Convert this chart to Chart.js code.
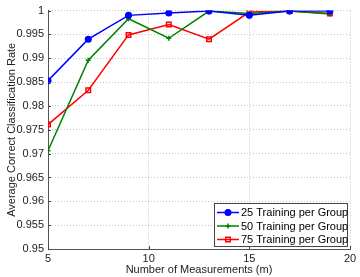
<!DOCTYPE html>
<html>
<head>
<meta charset="utf-8">
<script src="https://cdn.jsdelivr.net/npm/chart.js@4/dist/chart.umd.min.js"></script>
<style>
  html, body { margin: 0; padding: 0; background: #fff; }
  #wrap { position: relative; width: 360px; height: 277px; }
</style>
</head>
<body>
<div id="wrap"><canvas id="chart" width="360" height="277"></canvas></div>
<script>
const measurements = [5, 7, 9, 11, 13, 15, 17, 19];
const train25 = [0.9853, 0.9940, 0.9990, 0.9995, 0.9999, 0.9990, 0.9999, 0.9999];
const train50 = [0.9706, 0.9896, 0.9983, 0.9942, 0.9999, 0.9994, 0.9999, 0.9993];
const train75 = [0.9761, 0.9833, 0.9949, 0.9971, 0.9940, 0.9997, 0.9999, 0.9994];
const seriesNames = ['25 Training per Group', '50 Training per Group', '75 Training per Group'];

const FONT = 'Liberation Sans, Arial, sans-serif';

const toPoints = (arr) => arr.map((v, i) => ({ x: measurements[i], y: v }));

// small inward ticks on left and bottom axis (matlab style)
const innerTicks = {
  id: 'innerTicks',
  afterDraw(chart) {
    const ctx = chart.ctx;
    const a = chart.chartArea;
    ctx.save();
    ctx.strokeStyle = '#444';
    ctx.lineWidth = 1;
    ctx.beginPath();
    chart.scales.x.ticks.forEach((t) => {
      const px = Math.round(chart.scales.x.getPixelForValue(t.value)) + 0.5;
      ctx.moveTo(px, a.bottom);
      ctx.lineTo(px, a.bottom - 3);
    });
    chart.scales.y.ticks.forEach((t) => {
      const py = Math.round(chart.scales.y.getPixelForValue(t.value)) + 0.5;
      ctx.moveTo(a.left, py);
      ctx.lineTo(a.left + 3, py);
    });
    ctx.stroke();
    ctx.restore();
  }
};

// legend drawn inside the plot, bottom right like the original
const innerLegend = {
  id: 'innerLegend',
  afterDraw(chart) {
    const ctx = chart.ctx;
    const area = chart.chartArea;
    const w = 133, h = 43;
    const x0 = area.right - 3 - w, y0 = area.bottom - 3 - h;
    ctx.save();
    ctx.fillStyle = '#fff';
    ctx.fillRect(x0, y0, w, h);
    ctx.strokeStyle = '#444';
    ctx.lineWidth = 1;
    ctx.strokeRect(x0 + 0.5, y0 + 0.5, w, h);
    ctx.font = '11px ' + FONT;
    ctx.textBaseline = 'middle';
    chart.data.datasets.forEach((ds, i) => {
      const y = y0 + 9.5 + i * 13.5;
      ctx.strokeStyle = ds.borderColor;
      ctx.lineWidth = 1.5;
      ctx.beginPath();
      ctx.moveTo(x0 + 3, y);
      ctx.lineTo(x0 + 25, y);
      ctx.stroke();
      ctx.fillStyle = ds.pointBackgroundColor;
      Chart.helpers.drawPoint(ctx, {
        pointStyle: ds.pointStyle,
        radius: ds.pointRadius,
        borderWidth: 1.5
      }, x0 + 14, y);
      ctx.fillStyle = '#000';
      ctx.fillText(ds.label, x0 + 27, y + 0.5);
    });
    ctx.restore();
  }
};

const mkSet = (label, data, color, style, radius, fill) => ({
  label: label,
  data: toPoints(data),
  borderColor: color,
  backgroundColor: fill,
  borderWidth: 1.5,
  pointStyle: style,
  pointRadius: radius,
  pointBorderColor: color,
  pointBackgroundColor: fill,
  pointBorderWidth: 1.5,
  tension: 0
});

new Chart(document.getElementById('chart'), {
  type: 'line',
  data: {
    datasets: [
      mkSet(seriesNames[0], train25, '#0000ff', 'circle', 2.8, '#0000ff'),
      mkSet(seriesNames[1], train50, '#008000', 'cross', 2.5, '#008000'),
      mkSet(seriesNames[2], train75, '#ff0000', 'rect', 3.2, 'rgba(0,0,0,0)')
    ]
  },
  plugins: [innerTicks, innerLegend],
  options: {
    responsive: false,
    animation: false,
    layout: { padding: { top: 9, right: 10, left: 0, bottom: 0 } },
    plugins: { legend: { display: false }, tooltip: { enabled: false } },
    scales: {
      x: {
        type: 'linear',
        min: 5, max: 20,
        afterFit: (s) => { s.height = 28; },
        ticks: { stepSize: 5, color: '#222', font: { family: FONT, size: 11 }, padding: 3 },
        grid: { color: '#c4c4c4', drawTicks: false, lineWidth: 1 },
        border: { color: '#555', dash: [1, 2], display: true },
        title: { display: true, text: 'Number of Measurements (m)', color: '#222', font: { family: FONT, size: 11 }, padding: { top: 0, bottom: 0 } }
      },
      y: {
        min: 0.95, max: 1,
        afterFit: (s) => { s.width = 48; },
        ticks: {
          stepSize: 0.005, color: '#222', font: { family: FONT, size: 11 }, padding: 4,
          callback: (v) => parseFloat(v.toFixed(3)).toString()
        },
        grid: { color: '#c4c4c4', drawTicks: false, lineWidth: 1 },
        border: { color: '#555', dash: [1, 2] },
        title: { display: true, text: 'Average Correct Classification Rate', color: '#222', font: { family: FONT, size: 11 }, padding: { top: 5, bottom: 0 } }
      }
    }
  }
});
</script>
</body>
</html>
